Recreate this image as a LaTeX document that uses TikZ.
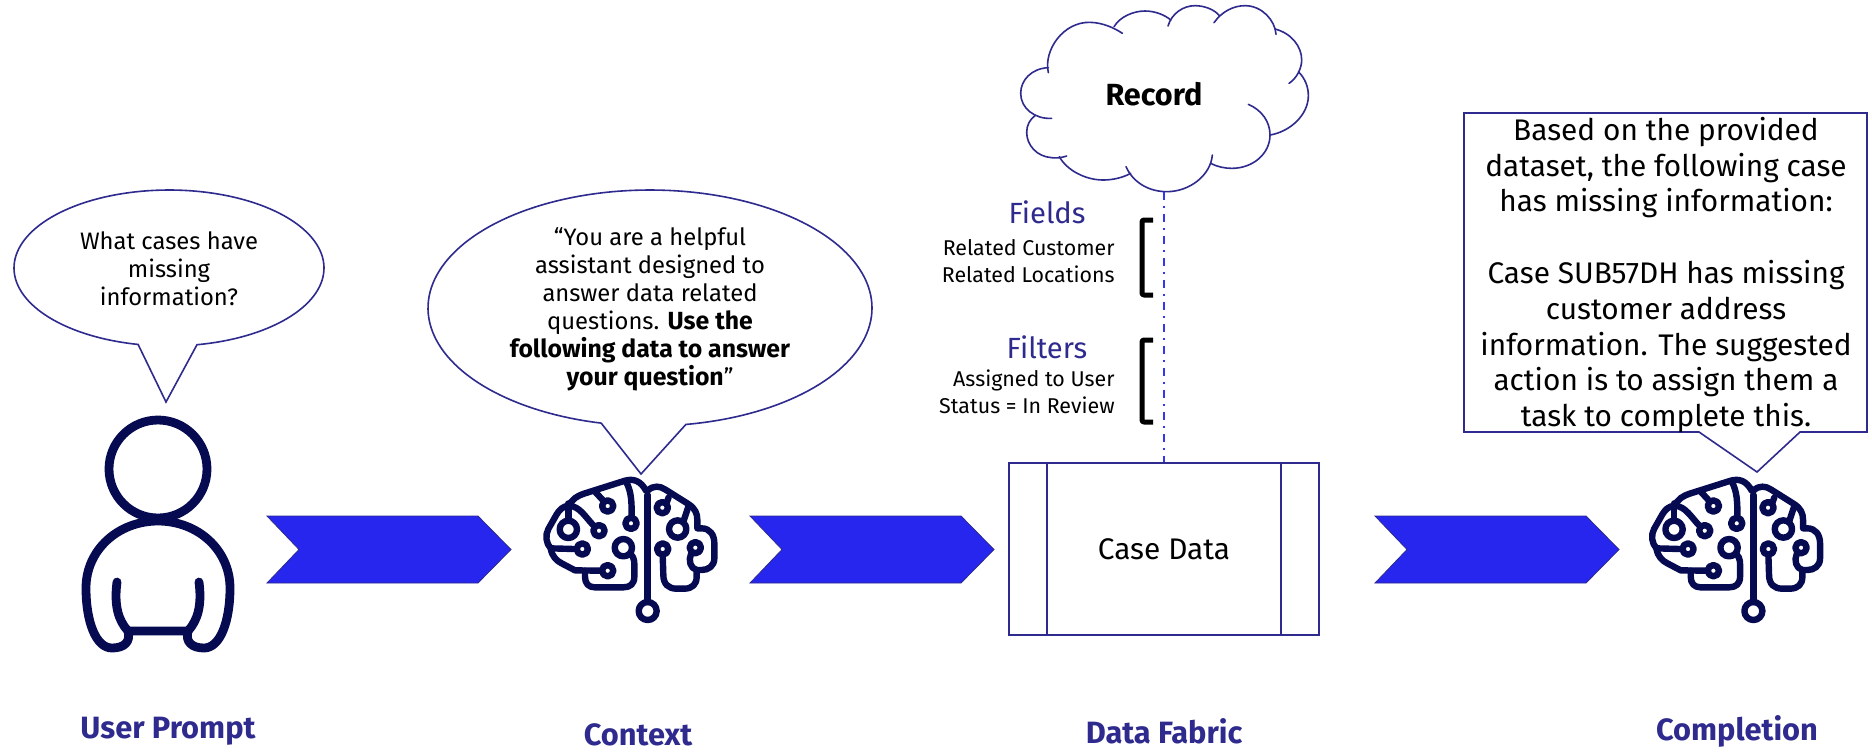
\documentclass[tikz,border=0pt]{standalone}
\usepackage{fontspec}
\setmainfont{Fira Sans}
\definecolor{linec}{HTML}{2E2A8E}
\definecolor{arrowc}{HTML}{2626EE}
\definecolor{iconc}{HTML}{060A50}
\definecolor{dashc}{HTML}{3535EE}
\newcommand{\txt}[2]{\fontsize{#1}{#2}\selectfont}
\newcommand{\flowarrow}[1]{%
  \draw[flowshape] (#1+0,516) -- (#1+211,516) -- (#1+244,549.5) -- (#1+211,583) -- (#1+0,583) -- (#1+32,549.5) -- cycle;}
\newcommand{\brainicon}[1]{%
\begin{scope}[xshift=#1pt,yshift=-230pt,x=0.16667pt,y=-0.16667pt,iconline]
  \draw (383,105) -- (383,426);
  \draw (383,453) circle[radius=27];
  \draw (378,92) .. controls (362,62) and (340,55) .. (315,62) -- (195,100) .. controls (170,108) and (155,118) .. (148,137) .. controls (128,138) and (118,150) .. (110,163) -- (85,207) .. controls (75,225) and (78,250) .. (92,265) .. controls (96,290) and (110,302) .. (125,310) -- (165,331) -- (240,332);
  \draw (92,265) -- (163,267);
  \draw (145,130) -- (145,182);
  \draw (148,137) .. controls (180,140) and (195,170) .. (222,198);
  \draw (225,95) -- (250,122);
  \draw (318,65) .. controls (335,95) and (335,130) .. (335,168);
  \draw (145,208) circle[radius=26];
  \draw (237,212) circle[radius=17];
  \draw (263,138) circle[radius=17];
  \draw (333,190) circle[radius=17];
  \draw (187,267) circle[radius=17];
  \draw (263,332) circle[radius=17];
  \draw (310,263) circle[radius=26];
  \draw (332,282) .. controls (345,295) and (343,310) .. (343,325) -- (343,350) .. controls (343,372) and (330,382) .. (310,382) -- (225,382) .. controls (205,382) and (195,370) .. (195,350) -- (195,332);
  \draw (383,92) .. controls (400,75) and (420,78) .. (435,88) -- (505,132) .. controls (525,145) and (532,160) .. (532,180) -- (532,205) -- (545,205) .. controls (570,205) and (583,225) .. (583,250) -- (583,295) .. controls (583,318) and (565,330) .. (545,330) -- (530,330);
  \draw (427,143) circle[radius=17];
  \draw (440,128) -- (446,112);
  \draw (473,207) circle[radius=26];
  \draw (490,185) -- (505,140);
  \draw (428,267) circle[radius=17];
  \draw (428,285) -- (430,345) .. controls (430,372) and (445,386) .. (470,386) -- (492,386) .. controls (518,386) and (530,372) .. (530,350) -- (530,330) .. controls (510,325) and (505,300) .. (513,282);
  \draw (526,263) circle[radius=17];
\end{scope}}
\tikzset{
  bubble/.style={draw=linec,line width=0.8pt,fill=white,line join=miter},
  flowshape/.style={draw=linec,line width=0.4pt,fill=arrowc},
  iconline/.style={draw=iconc,line width=3.2pt,line cap=round,line join=round},
  personline/.style={draw=iconc,line width=4.4pt,line cap=round,line join=round},
  cloudline/.style={draw=linec,line width=0.8pt,line cap=round},
  bracketline/.style={draw=black,line width=2.5pt,line join=round,rounded corners=1pt},
  bubbletext/.style={align=center,inner sep=0pt,text=black,font=\txt{11.9}{14}},
  headtext/.style={inner sep=0pt,text=linec,font=\txt{14.6}{17}},
  sidetext/.style={inner sep=0pt,align=right,anchor=east,text=black,font=\txt{10.7}{13.5}},
  stagetext/.style={inner sep=0pt,text=linec,font=\bfseries\txt{15.4}{17}},
  casebox/.style={draw=linec,line width=0.8pt,fill=white,minimum width=155pt,minimum height=86pt,inner sep=0pt,font=\txt{14.9}{17},text=black},
  replybox/.style={draw=linec,line width=0.8pt,fill=white,line join=miter},
  replytext/.style={align=center,inner sep=0pt,text=black,font=\txt{14.9}{17.9}},
  linkline/.style={draw=dashc,line width=0.8pt,dash pattern=on 4pt off 3pt on 1pt off 3pt},
}
\begin{document}
\begin{tikzpicture}[x=0.5pt,y=-0.5pt]
\useasboundingbox[fill=white] (0,0) rectangle (1872,751);

% left bubble
\draw[bubble] plot[domain=79.6:-258.5,samples=140] ({169+155*cos(\x)},{268+78*sin(\x)}) -- (166,402) -- cycle;
\node[bubbletext] (prompt) at (169,269) {What cases have\\missing\\information?};

% person
\begin{scope}[personline]
  \draw (158,469) circle[radius=49];
  \draw (117,582) .. controls (114,605) and (118,620) .. (128,631) -- (188,631) .. controls (198,620) and (202,605) .. (199,582);
  \draw (128,631) .. controls (131,642) and (124,648) .. (112,648) .. controls (96,648) and (86,622) .. (86,588) .. controls (86,550) and (118,521) .. (158,521) .. controls (198,521) and (230,550) .. (230,588) .. controls (230,622) and (220,648) .. (204,648) .. controls (192,648) and (185,642) .. (188,631);
\end{scope}

% flow arrows
\flowarrow{267}
\flowarrow{750}
\flowarrow{1375}

% context bubble
\draw[bubble] plot[domain=80.7:-257.3,samples=160] ({650+222*cos(\x)},{308+118*sin(\x)}) -- (641,474) -- cycle;
\node[bubbletext] (context) at (650,309) {“You are a helpful\\assistant designed to\\answer data related\\questions. {\fontsize{12.4}{14}\selectfont\textbf{Use the}}\\{\fontsize{12.4}{14}\selectfont\textbf{following data to answer}}\\{\fontsize{12.4}{14}\selectfont\textbf{your question}}”};

\brainicon{260}
\brainicon{812.85}

% cloud
\begin{scope}[xshift=460pt,x=0.16667pt,y=-0.16667pt,cloudline]
  \draw (385,218) .. controls (370,150) and (430,65) .. (510,67) .. controls (550,68) and (585,85) .. (607,100);
  \draw (582,80) .. controls (600,50) and (640,33) .. (675,33) .. controls (705,33) and (735,45) .. (752,60);
  \draw (744,78) .. controls (755,40) and (790,17) .. (825,17) .. controls (855,17) and (885,30) .. (898,47);
  \draw (882,68) .. controls (905,35) and (940,17) .. (975,17) .. controls (1025,17) and (1065,60) .. (1068,103);
  \draw (1065,87) .. controls (1115,100) and (1145,140) .. (1145,180) .. controls (1145,205) and (1130,235) .. (1107,250);
  \draw (1135,215) .. controls (1155,235) and (1165,260) .. (1165,287) .. controls (1165,345) and (1110,395) .. (1050,405);
  \draw (985,313) .. controls (1025,330) and (1050,365) .. (1050,405) .. controls (1050,460) and (1000,505) .. (935,505) .. controls (915,505) and (890,500) .. (872,490);
  \draw (877,465) .. controls (872,525) and (810,575) .. (740,575) .. controls (690,575) and (640,550) .. (618,500);
  \draw (632,520) .. controls (610,532) and (580,540) .. (550,540) .. controls (495,540) and (440,510) .. (418,470);
  \draw (440,468) .. controls (425,473) and (410,475) .. (395,473) .. controls (350,470) and (320,435) .. (320,397) .. controls (320,375) and (330,358) .. (345,347);
  \draw (395,355) .. controls (345,358) and (302,325) .. (302,280) .. controls (302,240) and (335,205) .. (385,203);
\end{scope}
\node[inner sep=0pt,text=black,font=\bfseries\txt{15.3}{17}] (record) at (1154,94) {Record};
\coordinate (cloudfoot) at (1164,192);

% case data box
\node[casebox] (casedata) at (1164,549) {Case Data};
\draw[draw=linec,line width=0.8pt] ([xshift=19.5pt]casedata.north west) -- ([xshift=19.5pt]casedata.south west);
\draw[draw=linec,line width=0.8pt] ([xshift=-19.5pt]casedata.north east) -- ([xshift=-19.5pt]casedata.south east);

% link
\draw[linkline] (cloudfoot) -- (cloudfoot |- casedata.north);

% fields and filters
\node[headtext] (fieldshead) at (1047,212) {Fields};
\node[sidetext] (fieldslist) at (1115,261.5) {Related Customer\\Related Locations};
\draw[bracketline] (1153,220) -- (1142,220) -- (1142,295) -- (1153,295);
\node[headtext] (filtershead) at (1047,347) {Filters};
\node[sidetext] (filterslist) at (1115,391.5) {Assigned to User\\Status = In Review};
\draw[bracketline] (1153,340) -- (1142,340) -- (1142,422) -- (1153,422);

% completion box
\draw[replybox] (1464,113) -- (1867,113) -- (1867,432) -- (1800,432) -- (1757,472) -- (1699,432) -- (1464,432) -- cycle;
\node[replytext] (reply) at (1666,275) {Based on the provided\\dataset, the following case\\has missing information:\\[17.9pt]Case SUB57DH has missing\\customer address\\information. The suggested\\action is to assign them a\\task to complete this.};

% stage labels
\node[stagetext] (stageuser) at (168,731) {User Prompt};
\node[stagetext] (stagecontext) at (638,735) {Context};
\node[stagetext] (stagefabric) at (1164,731) {Data Fabric};
\node[stagetext] (stagecompletion) at (1737,731) {Completion};
\end{tikzpicture}
\end{document}
